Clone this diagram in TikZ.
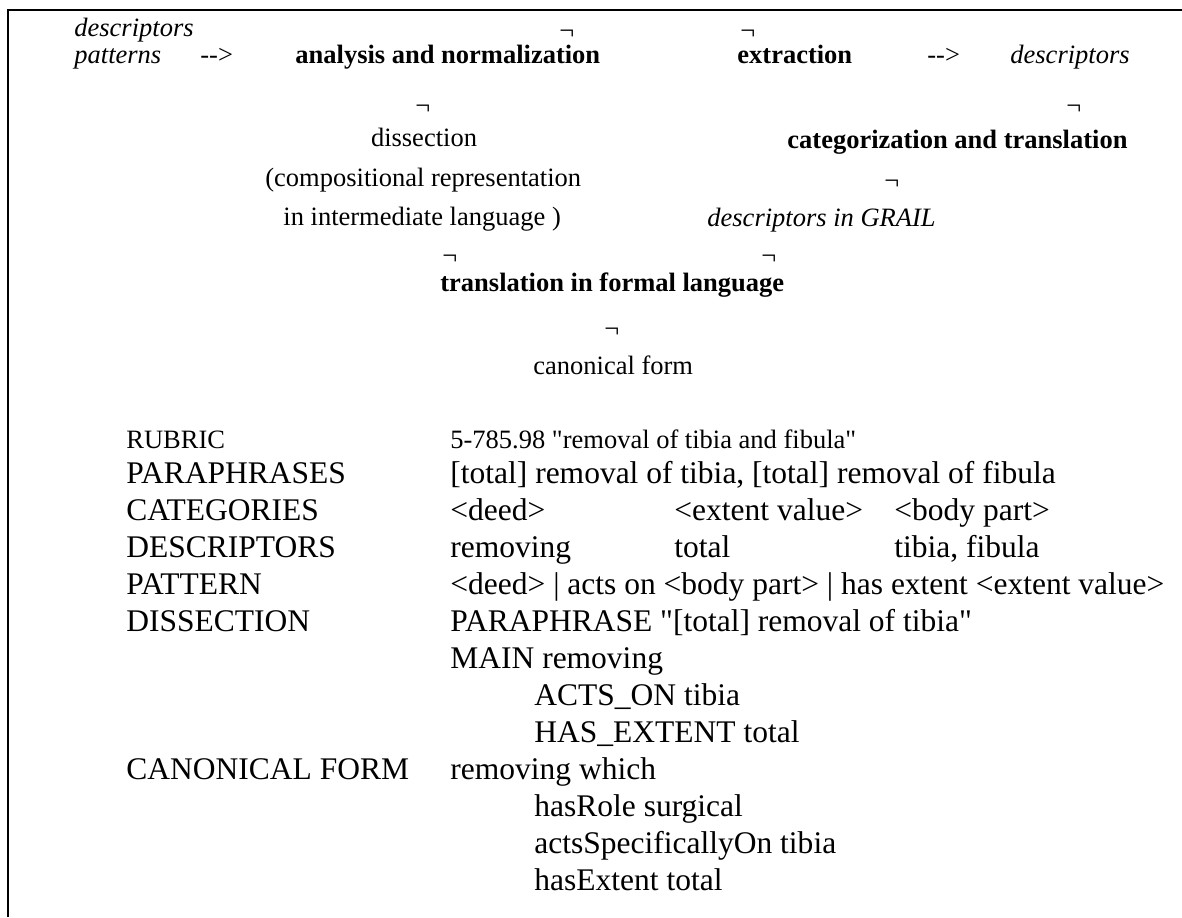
\documentclass[tikz,border=0pt]{standalone}
\usepackage{fontspec}
\setmainfont{Liberation Serif}
\usetikzlibrary{positioning}

\begin{document}
\begin{tikzpicture}[
  x=0.5pt, y=-0.5pt,
  txt/.style={inner sep=0pt,anchor=base west,font=\fontsize{13.25}{16}\selectfont},
  stage/.style={txt,font=\fontsize{13.25}{16}\selectfont\bfseries},
  term/.style={txt,font=\fontsize{13.25}{16}\selectfont\itshape},
  row/.style={inner sep=0pt,anchor=base west,font=\fontsize{15.75}{19}\selectfont},
  frame/.style={line width=1.3pt,black},
]
\useasboundingbox (0,0) rectangle (1182,917);
\draw[frame] (8,917) -- (8,10) -- (1182,10);

% pipeline
\node[term]  (desc)  at (74,36)   {descriptors};
\node[term]  (patt)  at (74,63)   {patterns};
\node[txt]   (to1)   at (200,63)  {-{}->};
\node[stage] (ana)   at (295,63)  {analysis and normalization};
\node[stage] (ext)   at (737,63)  {extraction};
\node[txt]   (to2)   at (927,63)  {-{}->};
\node[term]  (descr) at (1010,63) {descriptors};
\node[txt,anchor=base] (diss) at (424,146) {dissection};
\node[stage] (cat)   at (787,148) {categorization and translation};
\node[txt]   (comp)  at (265,186) {(compositional representation};
\node[txt]   (inter) at (283,225) {in intermediate language )};
\node[term]  (grail) at (707,226) {descriptors in GRAIL};
\node[stage] (trans) at (440,291) {translation in formal language};
\node[txt]   (canon) at (533,374) {canonical form};

\foreach \n/\x/\y in {1/559/39,2/740/39,3/415/114,4/1066/114,5/884/189,6/442/264,7/761/264,8/604/337}
  \node[txt] (turn\n) at (\x,\y) {¬};

% example record
\node[txt] (rub)  at (126,448) {RUBRIC};
\node[txt] (rubv) at (450,448) {5-785.98 \textquotedbl removal of tibia and fibula\textquotedbl};
\node[row] (par)  at (126,483) {PARAPHRASES};
\node[row] (parv) at (450,483) {[total] removal of tibia, [total] removal of fibula};
\node[row] (cats) at (126,520) {CATEGORIES};
\node[row] (c1)   at (450,520) {<deed>};
\node[row] (c2)   at (674,520) {<extent value>};
\node[row] (c3)   at (894,520) {<body part>};
\node[row] (dsc)  at (126,557) {DESCRIPTORS};
\node[row] (d1)   at (450,557) {removing};
\node[row] (d2)   at (674,557) {total};
\node[row] (d3)   at (894,557) {tibia, fibula};
\node[row] (pat)  at (126,594) {PATTERN};
\node[row] (patv) at (450,594) {<deed> | acts on <body part> | has extent <extent value>};
\node[row] (dis)  at (126,631) {DISSECTION};
\node[row] (dis1) at (450,631) {PARAPHRASE \textquotedbl[total] removal of tibia\textquotedbl};
\node[row] (dis2) at (450,668) {MAIN removing};
\node[row] (dis3) at (534,705) {ACTS\_ON tibia};
\node[row] (dis4) at (534,742) {HAS\_EXTENT total};
\node[row] (can)  at (126,779) {CANONICAL FORM};
\node[row] (can1) at (450,779) {removing which};
\node[row] (can2) at (534,816) {hasRole surgical};
\node[row] (can3) at (534,853) {actsSpecificallyOn tibia};
\node[row] (can4) at (534,890) {hasExtent total};
\end{tikzpicture}
\end{document}
